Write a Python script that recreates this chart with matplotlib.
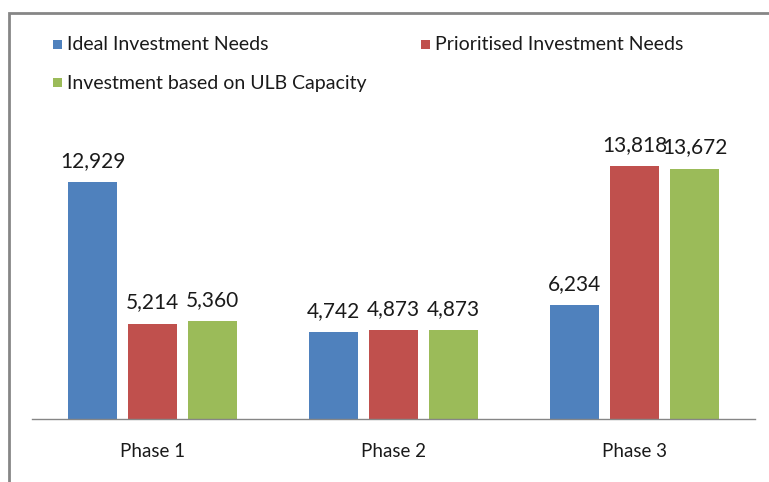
import numpy as np
import matplotlib.pyplot as plt
from matplotlib.patches import Rectangle

phases = ['Phase 1', 'Phase 2', 'Phase 3']
series_names = ['Ideal Investment Needs', 'Prioritised Investment Needs',
                'Investment based on ULB Capacity']
ideal = [12929, 4742, 6234]
prioritised = [5214, 4873, 13818]
ulb_capacity = [5360, 4873, 13672]

colors = ['#4F81BD', '#C0504D', '#9BBB59']

plt.rcParams['font.family'] = ['Lato', 'DejaVu Sans']

W, H = 769, 482
fig = plt.figure(figsize=(W / 100, H / 100), dpi=100)

# outer chart frame (cut off at right and bottom in the reference)
fig.patches.append(Rectangle((9 / W, -0.1), 1.2, (H - 13) / H + 0.1,
                             transform=fig.transFigure, fill=False,
                             edgecolor='#868686', linewidth=2))

ax = fig.add_axes([32 / W, (H - 419) / H, (755 - 32) / W, (419 - 126) / H])
x = np.arange(len(phases))
width = 0.2
step = 0.249
for i, (vals, color) in enumerate(zip([ideal, prioritised, ulb_capacity], colors)):
    bars = ax.bar(x + (i - 1) * step, vals, width, color=color, label=series_names[i])
    ax.bar_label(bars, labels=[f'{v:,}' for v in vals], padding=8,
                 fontsize=15, color='#1a1a1a')

ax.set_xlim(-0.5, 2.5)
ax.set_ylim(0, 16000)
ax.set_xticks(x)
ax.set_xticklabels(phases, fontsize=13.5, color='#1a1a1a')
ax.tick_params(axis='x', length=0, pad=17)
ax.set_yticks([])
for side in ['left', 'right', 'top']:
    ax.spines[side].set_visible(False)
ax.spines['bottom'].set_color('#868686')
ax.spines['bottom'].set_linewidth(1)

# legend laid out like the original (two columns, two rows)
legend_pos = [(53, 45), (421, 45), (53, 83)]
for name, color, (lx, ly) in zip(series_names, colors, legend_pos):
    fig.patches.append(Rectangle((lx / W, (H - ly - 4) / H), 9 / W, 9 / H,
                                 transform=fig.transFigure, facecolor=color,
                                 edgecolor='none'))
    fig.text((lx + 14) / W, (H - ly) / H, name, fontsize=14,
             va='center', ha='left', color='#1a1a1a')

fig.savefig('out.png', dpi=100)
